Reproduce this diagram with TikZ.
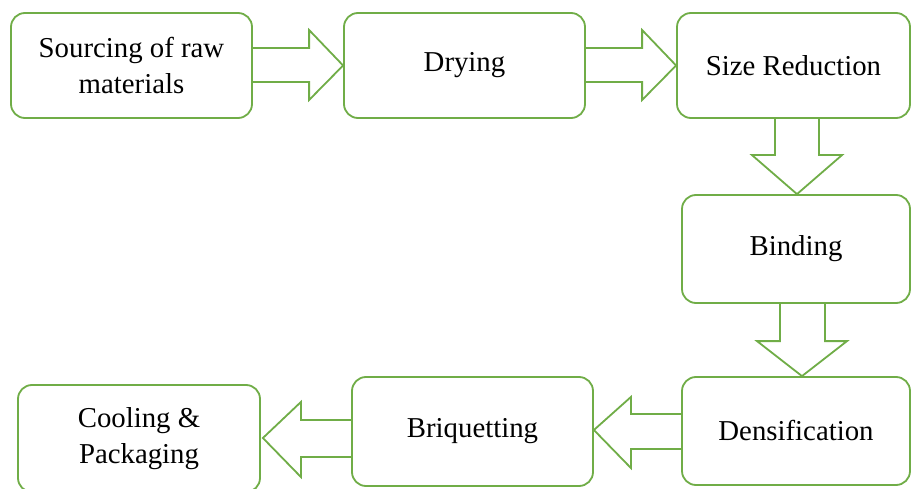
\documentclass[tikz,border=0pt]{standalone}
\usepackage{fontspec}
\setmainfont{Liberation Serif}
\usetikzlibrary{calc}
\definecolor{boxgreen}{RGB}{112,173,71}
\begin{document}
\begin{tikzpicture}[x=1pt,y=-1pt,
  stepbox/.style={draw=boxgreen, line width=1.8pt, rounded corners=14pt, align=center, inner sep=0pt, font=\fontsize{28.8}{36}\selectfont},
  blockarrow/.style={draw=boxgreen, line width=1.8pt, line join=miter}]
\useasboundingbox (0,0) rectangle (911,489);
\clip (0,0) rectangle (911,489);
\fill[white] (0,0) rectangle (911,489);
% boxes
\node[stepbox, minimum width=241pt, minimum height=105pt] (src) at (131.5,65.5) {Sourcing of raw\\materials};
\node[stepbox, minimum width=241pt, minimum height=105pt] (dry) at (464.5,65.5) {Drying};
\node[stepbox, minimum width=233pt, minimum height=105pt] (size) at (793.5,65.5) {Size Reduction};
\node[stepbox, minimum width=228pt, minimum height=108pt] (bind) at (796,249) {Binding};
\node[stepbox, minimum width=228pt, minimum height=108pt] (dens) at (796,431) {Densification};
\node[stepbox, minimum width=241pt, minimum height=109pt] (briq) at (472.5,431.5) {Briquetting};
\node[stepbox, minimum width=242pt, minimum height=107pt] (cool) at (139,438.5) {Cooling \&\\Packaging};
% block arrows
\draw[blockarrow] ($(src.east)+(0,-17.5)$) -- ($(dry.west)+(-34,-17.5)$) -- ($(dry.west)+(-34,-35.5)$) -- (dry.west) -- ($(dry.west)+(-34,34.5)$) -- ($(dry.west)+(-34,16.5)$) -- ($(src.east)+(0,16.5)$);
\draw[blockarrow] ($(dry.east)+(0,-17.5)$) -- ($(size.west)+(-34,-17.5)$) -- ($(size.west)+(-34,-35.5)$) -- (size.west) -- ($(size.west)+(-34,34.5)$) -- ($(size.west)+(-34,16.5)$) -- ($(dry.east)+(0,16.5)$);
\draw[blockarrow] ($(size.south)+(-18.5,0)$) -- ($(bind.north)+(-21,-39)$) -- ($(bind.north)+(-44,-39)$) -- ($(bind.north)+(1,0)$) -- ($(bind.north)+(46,-39)$) -- ($(bind.north)+(23,-39)$) -- ($(size.south)+(25.5,0)$);
\draw[blockarrow] ($(bind.south)+(-16,0)$) -- ($(dens.north)+(-16,-35)$) -- ($(dens.north)+(-39,-35)$) -- ($(dens.north)+(6,0)$) -- ($(dens.north)+(51,-35)$) -- ($(dens.north)+(29,-35)$) -- ($(bind.south)+(29,0)$);
\draw[blockarrow] ($(dens.west)+(0,-17)$) -- ($(briq.east)+(37,-17.5)$) -- ($(briq.east)+(37,-34.5)$) -- ($(briq.east)+(0,-1.5)$) -- ($(briq.east)+(37,36.5)$) -- ($(briq.east)+(37,17.5)$) -- ($(dens.west)+(0,18)$);
\draw[blockarrow] ($(briq.west)+(0,-11.5)$) -- ($(cool.east)+(40,-18.5)$) -- ($(cool.east)+(40,-36.5)$) -- ($(cool.east)+(2,-0.5)$) -- ($(cool.east)+(40,38.5)$) -- ($(cool.east)+(40,18.5)$) -- ($(briq.west)+(0,25.5)$);
\end{tikzpicture}
\end{document}
